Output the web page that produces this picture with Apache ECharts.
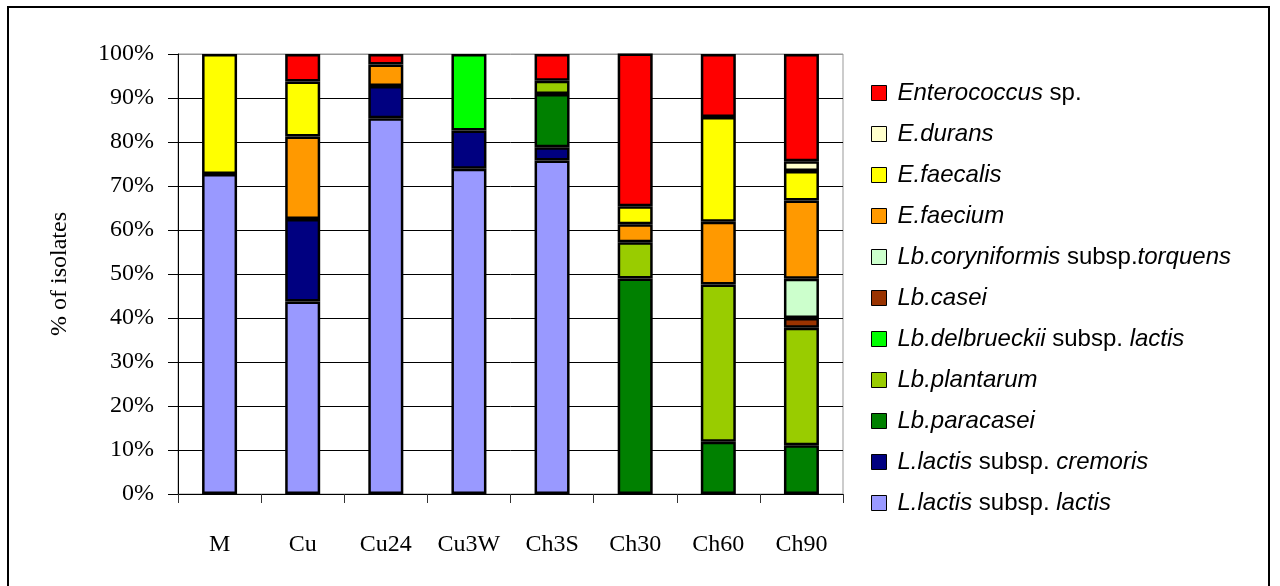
<!DOCTYPE html>
<html>
<head>
<meta charset="utf-8">
<script src="https://cdn.jsdelivr.net/npm/echarts@6/dist/echarts.min.js"></script>
<style>
  html, body { margin: 0; padding: 0; background: #fff; }
  #chart { width: 1280px; height: 586px; }
</style>
</head>
<body>
<div id="chart"></div>
<script>
// samples on the x axis
var categories = ['M', 'Cu', 'Cu24', 'Cu3W', 'Ch3S', 'Ch30', 'Ch60', 'Ch90']

// % of isolates per species, bottom of stack first
var lactisLactis   = [72.7, 43.75, 85.4, 73.9, 75.8, 0, 0, 0]
var lactisCremoris = [0, 18.75, 7.3, 8.7, 3.0, 0, 0, 0]
var paracasei      = [0, 0, 0, 0, 12.1, 49.0, 11.9, 11.1]
var plantarum      = [0, 0, 0, 0, 3.0, 8.2, 35.7, 26.7]
var delbrueckii    = [0, 0, 0, 17.4, 0, 0, 0, 0]
var casei          = [0, 0, 0, 0, 0, 0, 0, 2.2]
var coryniformis   = [0, 0, 0, 0, 0, 0, 0, 8.9]
var faecium        = [0, 18.75, 4.9, 0, 0, 4.1, 14.3, 17.8]
var faecalis       = [27.3, 12.5, 0, 0, 0, 4.1, 23.8, 6.7]
var durans         = [0, 0, 0, 0, 0, 0, 0, 2.2]
var enterococcus   = [0, 6.25, 2.4, 0, 6.1, 34.7, 14.3, 24.4]

var yTicks = [0, 10, 20, 30, 40, 50, 60, 70, 80, 90, 100]

// series name, legend label (rich text), colour, data
var speciesList = [
  ['L.lactis subsp. lactis', '{i|L.lactis} {n|subsp.} {i|lactis}', '#9999FF', lactisLactis],
  ['L.lactis subsp. cremoris', '{i|L.lactis} {n|subsp.} {i|cremoris}', '#000080', lactisCremoris],
  ['Lb.paracasei', '{i|Lb.paracasei}', '#008000', paracasei],
  ['Lb.plantarum', '{i|Lb.plantarum}', '#99CC00', plantarum],
  ['Lb.delbrueckii subsp. lactis', '{i|Lb.delbrueckii} {n|subsp.} {i|lactis}', '#00FF00', delbrueckii],
  ['Lb.casei', '{i|Lb.casei}', '#993300', casei],
  ['Lb.coryniformis subsp.torquens', '{i|Lb.coryniformis} {n|subsp.}{i|torquens}', '#CCFFCC', coryniformis],
  ['E.faecium', '{i|E.faecium}', '#FF9900', faecium],
  ['E.faecalis', '{i|E.faecalis}', '#FFFF00', faecalis],
  ['E.durans', '{i|E.durans}', '#FFFFCC', durans],
  ['Enterococcus sp.', '{i|Enterococcus} {n|sp.}', '#FF0000', enterococcus],
]

var labelMap = {}
var series = speciesList.map(function (s) {
  labelMap[s[0]] = s[1]
  return {
    name: s[0],
    type: 'bar',
    stack: 'total',
    barWidth: 35,
    itemStyle: { color: s[2], borderColor: '#000', borderWidth: 2.5 },
    data: s[3].map(function (v) { return v === 0 ? '-' : v }),
  }
})

var legendNames = speciesList.map(function (s) { return s[0] }).reverse()

var myChart = echarts.init(document.getElementById('chart'))
var splitColors = yTicks.map(function (t) { return t === 100 ? '#999' : '#000' })
var legendFont = 'Liberation Sans, Arial, sans-serif'

var option = {
  animation: false,
  backgroundColor: '#fff',
  graphic: [
    {
      type: 'rect',
      shape: { x: 8, y: 7, width: 1261, height: 600 },
      style: { fill: 'none', stroke: '#000', lineWidth: 2 },
      silent: true,
    },
  ],
  grid: {
    left: 178,
    top: 54,
    right: 437,
    height: 440,
    show: true,
    borderColor: '#999',
    borderWidth: 1,
  },
  legend: {
    orient: 'vertical',
    left: 866,
    top: 76,
    icon: 'rect',
    itemWidth: 15,
    itemHeight: 15,
    itemGap: 17,
    data: legendNames,
    itemStyle: { borderColor: '#000', borderWidth: 1 },
    formatter: function (name) {
      return labelMap[name]
    },
    textStyle: {
      fontFamily: legendFont,
      fontSize: 24,
      color: '#000',
      lineHeight: 20,
      padding: [0, 0, 0, 6],
      rich: {
        i: { fontStyle: 'italic', fontSize: 24, color: '#000', lineHeight: 20, fontFamily: legendFont },
        n: { fontStyle: 'normal', fontSize: 24, color: '#000', lineHeight: 20, fontFamily: legendFont },
      },
    },
  },
  xAxis: {
    type: 'category',
    data: categories,
    axisLine: { lineStyle: { color: '#000', width: 1 } },
    axisTick: { show: true, length: 9, lineStyle: { color: '#333' } },
    axisLabel: {
      margin: 39,
      fontFamily: 'Liberation Serif, Times New Roman, serif',
      fontSize: 24,
      color: '#000',
    },
  },
  yAxis: {
    type: 'value',
    min: 0,
    max: 100,
    interval: 10,
    name: '% of isolates',
    nameLocation: 'middle',
    nameGap: 106,
    nameTextStyle: {
      fontFamily: 'Liberation Serif, Times New Roman, serif',
      fontSize: 24,
      color: '#000',
    },
    axisLine: { show: true, lineStyle: { color: '#000', width: 1 } },
    axisTick: { show: true, length: 10, lineStyle: { color: '#000' } },
    axisLabel: {
      margin: 24,
      formatter: '{value}%',
      fontFamily: 'Liberation Serif, Times New Roman, serif',
      fontSize: 24,
      color: '#000',
    },
    splitLine: { show: true, lineStyle: { color: splitColors, width: 1 } },
  },
  series: series,
}

option && myChart.setOption(option)
window.addEventListener('resize', function () {
  myChart.resize()
})
</script>
</body>
</html>
